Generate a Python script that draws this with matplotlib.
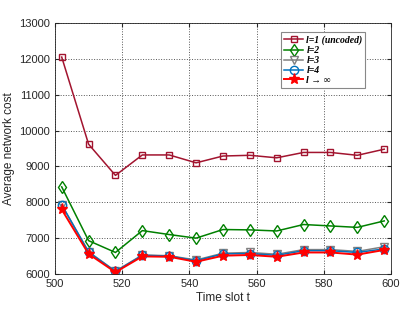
import numpy as np
import matplotlib
matplotlib.use('Agg')
import matplotlib.pyplot as plt

plt.rcParams['font.family'] = ['Liberation Sans', 'DejaVu Sans']

t = [502, 510, 518, 526, 534, 542, 550, 558, 566, 574, 582, 590, 598]
cost_l1 = [12050, 9620, 8750, 9320, 9320, 9100, 9290, 9310, 9240, 9390, 9390, 9310, 9480]
cost_l2 = [8430, 6930, 6600, 7210, 7100, 7000, 7240, 7230, 7200, 7380, 7340, 7300, 7480]
cost_l3 = [7930, 6620, 6080, 6530, 6510, 6390, 6580, 6600, 6550, 6680, 6680, 6630, 6760]
cost_l4 = [7930, 6610, 6070, 6520, 6500, 6370, 6560, 6570, 6520, 6650, 6650, 6600, 6700]
cost_inf = [7800, 6560, 6050, 6490, 6480, 6340, 6510, 6530, 6480, 6600, 6600, 6540, 6670]

labels = ['l=1 (uncoded)', 'l=2', 'l=3', 'l=4', 'l → ∞']

fig = plt.figure(figsize=(4.15, 3.09), dpi=100)
ax = fig.add_axes([0.1325, 0.1133, 0.8095, 0.8123])

ax.plot(t, cost_l1, color='#A2142F', marker='s', ms=5, mfc='none', mew=1.0, lw=1.1, label=labels[0])
ax.plot(t, cost_l2, color='#008000', marker='d', ms=6, mfc='none', mew=1.0, lw=1.1, label=labels[1])
ax.plot(t, cost_l3, color='#808080', marker='v', ms=6, mfc='none', mew=1.0, lw=1.1, label=labels[2])
ax.plot(t, cost_l4, color='#0072BD', marker='o', ms=6, mfc='none', mew=1.0, lw=1.1, label=labels[3])
ax.plot(t, cost_inf, color='#FF0000', marker='*', ms=8, lw=1.4, label=labels[4])

ax.set_xlim(500, 600)
ax.set_ylim(6000, 13000)
ax.set_xticks(np.arange(500, 601, 20))
ax.set_yticks(np.arange(6000, 13001, 1000))
ax.grid(True, linestyle=':', color='#555555', lw=0.7)
ax.tick_params(direction='in', top=True, right=True, labelsize=8, colors='#262626', length=3)
for s in ax.spines.values():
    s.set_color('#262626')
    s.set_linewidth(0.6)
ax.set_xlabel('Time slot t', fontsize=8.5, color='#262626', labelpad=2)
ax.set_ylabel('Average network cost', fontsize=8.5, color='#262626', labelpad=3)

leg = ax.legend(loc='upper right', bbox_to_anchor=(0.93, 0.97), fancybox=False, framealpha=1,
                edgecolor='#888888', handlelength=2.0, handletextpad=0.3, labelspacing=0.1,
                borderpad=0.3, borderaxespad=0.2,
                prop={'family': ['Liberation Serif', 'DejaVu Serif'], 'style': 'italic', 'weight': 'bold', 'size': 7})
leg.get_frame().set_linewidth(0.8)

fig.savefig('out.png', dpi=100)
